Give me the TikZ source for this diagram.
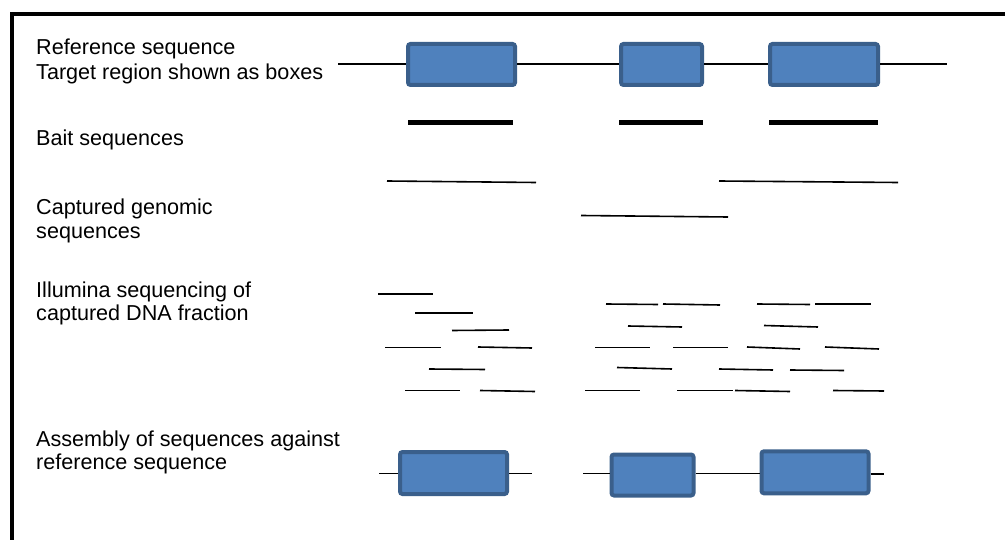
\documentclass[tikz,border=0pt]{standalone}
\usepackage{fontspec}
\setmainfont{Liberation Sans}
\definecolor{exonfill}{HTML}{4F81BD}
\definecolor{exonborder}{HTML}{3A5F8B}
\tikzset{
  exon/.style={draw=exonborder, fill=exonfill, line width=4pt, rounded corners=2.5pt, inner sep=0pt, minimum height=41pt},
  link/.style={line width=1.5pt, black},
  bait/.style={line width=5.5pt, black},
  readline/.style={line width=1.6pt, black},
  lbl/.style={anchor=base west, inner sep=0pt, font=\fontsize{21.6}{24}\selectfont},
  frame/.style={line width=4pt, black}
}
\begin{document}
\begin{tikzpicture}[x=1pt,y=-1pt]
\useasboundingbox (0,0) rectangle (1005,540);
% frame
\draw[frame] (12,541) -- (12,14.5) -- (1006,14.5);

% labels
\node[lbl] (t1a) at (36,55) {Reference sequence};
\node[lbl] (t1b) at (36,80) {Target region shown as boxes};
\node[lbl] (t2) at (36,146) {Bait sequences};
\node[lbl] (t3a) at (36,215) {Captured genomic};
\node[lbl] (t3b) at (36,239) {sequences};
\node[lbl] (t4a) at (36,297.5) {Illumina sequencing of};
\node[lbl] (t4b) at (36,321) {captured DNA fraction};
\node[lbl] (t5a) at (36,446) {Assembly of sequences against};
\node[lbl] (t5b) at (36,469.5) {reference sequence};

% reference sequence
\coordinate (rL) at (338,64);
\coordinate (rR) at (947,64);
\node[exon, minimum width=107pt] (r1) at (461.5,64.5) {};
\node[exon, minimum width=81pt] (r2) at (661.5,64.5) {};
\node[exon, minimum width=108pt] (r3) at (824,64.5) {};
\draw[link] (rL) -- (r1.west |- rL);
\draw[link] (r1.east |- rL) -- (r2.west |- rL);
\draw[link] (r2.east |- rL) -- (r3.west |- rL);
\draw[link] (r3.east |- rL) -- (rR);

% baits
\draw[bait] (408,122.5) -- (513,122.5);
\draw[bait] (619,122.5) -- (703,122.5);
\draw[bait] (769,122.5) -- (878,122.5);

% captured genomic sequences
\draw[readline] (387,181) -- (536,182.5);
\draw[readline] (719,181) -- (898,182.5);
\draw[readline] (581,215.5) -- (728,217);

% reads
\draw[readline] (378,294) -- (433,294);
\draw[readline] (606,304) -- (658,304.5);
\draw[readline] (663,304) -- (720,305);
\draw[readline] (757,304) -- (810,304.5);
\draw[readline] (815,304) -- (871,304);
\draw[readline] (415,313) -- (473,313);
\draw[readline] (628,326) -- (682,327);
\draw[readline] (764,325.5) -- (818,327);
\draw[readline] (452,330.5) -- (509,330);
\draw[readline] (385,347.5) -- (441,347.5);
\draw[readline] (478,347) -- (532,348);
\draw[readline] (595,347.5) -- (650,347.5);
\draw[readline] (673,347.5) -- (728,347.5);
\draw[readline] (747,347) -- (800,349);
\draw[readline] (825,347) -- (879,349);
\draw[readline] (429,369) -- (485,369.5);
\draw[readline] (617,367.5) -- (672,369);
\draw[readline] (719,369) -- (773,370);
\draw[readline] (790,370) -- (844,370.5);
\draw[readline] (405,390.5) -- (460,390.5);
\draw[readline] (480,390.5) -- (535,391.5);
\draw[readline] (585,390.5) -- (640,390.5);
\draw[readline] (677,390.5) -- (733,390.5);
\draw[readline] (735,390.5) -- (790,391.5);
\draw[readline] (833,390.5) -- (884,391);

% assembly
\coordinate (aL1) at (379,473.5);
\coordinate (aR1) at (532,473.5);
\coordinate (aL2) at (583,473.5);
\coordinate (aR3) at (884,474);
\node[exon, minimum width=107pt, minimum height=42pt] (a1) at (453.5,473) {};
\node[exon, minimum width=82pt, minimum height=41pt] (a2) at (652.5,475) {};
\node[exon, minimum width=107pt, minimum height=42pt] (a3) at (815,472.3) {};
\draw[link] (aL1) -- (a1.west |- aL1);
\draw[link] (a1.east |- aR1) -- (aR1);
\draw[link] (aL2) -- (a2.west |- aL2);
\draw[link] (a2.east |- aL2) -- (a3.west |- aL2);
\draw[link] (a3.east |- aR3) -- (aR3);
\end{tikzpicture}
\end{document}
